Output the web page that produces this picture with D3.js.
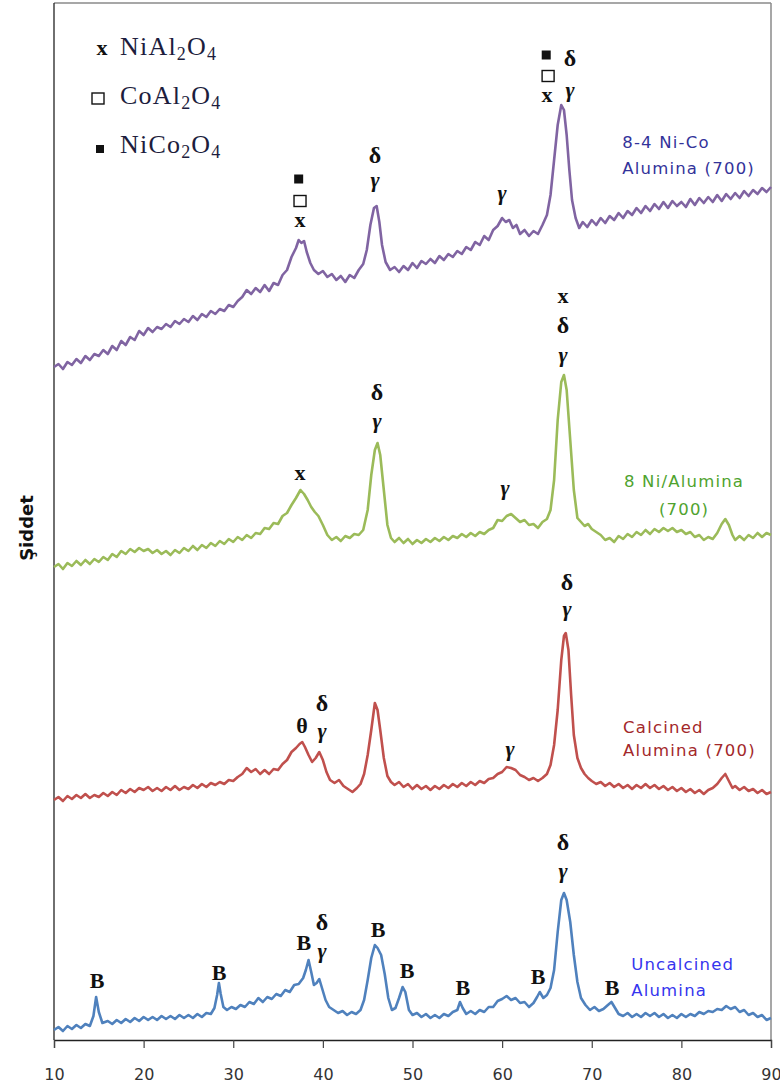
<!DOCTYPE html>
<html>
<head>
<meta charset="utf-8">
<script src="https://cdn.jsdelivr.net/npm/d3@7"></script>
<style>
  body { margin: 0; background: #fff; }
  svg { display: block; }
</style>
</head>
<body>
<svg id="chart"></svg>
<script>
// x axis ticks (2 theta)
var xTicks = [10, 20, 30, 40, 50, 60, 70, 80, 90];

// patterns, [2theta, intensity (arb. units, stacked)]
var uncalcined = [
  [10.0,10],[10.5,13],[11.0,9],[11.5,14],[12.0,11],[12.5,15],[13.0,12],[13.5,16],[14.0,14],[14.4,24],[14.7,43],[15.0,28],[15.4,17],
  [16.0,19],[16.5,16],[17.0,20],[17.5,17],[18.0,21],[18.5,18],[19.0,22],[19.5,19],[20.0,23],[20.5,20],[21.0,23],[21.5,20],[22.0,24],
  [22.5,21],[23.0,24],[23.5,21],[24.0,25],[24.5,22],[25.0,25],[25.5,22],[26.0,26],[26.5,23],[27.0,27],[27.5,26],[27.9,32],[28.2,45],
  [28.4,57],[28.6,46],[28.9,33],[29.3,30],[29.8,33],[30.3,31],[30.8,35],[31.3,33],[31.8,38],[32.3,36],[32.8,42],[33.3,38],[33.8,43],
  [34.3,41],[34.8,46],[35.3,44],[35.8,50],[36.3,48],[36.8,55],[37.3,56],[37.8,62],[38.1,70],[38.4,80],[38.7,68],[39.0,55],[39.3,57],
  [39.6,61],[39.9,52],[40.3,40],[40.7,33],[41.2,30],[41.7,27],[42.2,29],[42.7,25],[43.2,28],[43.7,26],[44.2,30],[44.6,40],[45.0,60],
  [45.4,82],[45.8,95],[46.1,92],[46.5,85],[46.9,66],[47.3,42],[47.7,30],[48.1,32],[48.5,42],[48.9,53],[49.2,48],[49.6,30],[50.0,25],
  [50.5,27],[51.0,23],[51.5,26],[52.0,22],[52.5,25],[53.0,22],[53.5,26],[54.0,24],[54.5,28],[55.0,30],[55.3,38],[55.6,32],[56.0,26],
  [56.5,29],[57.0,26],[57.5,30],[58.0,28],[58.5,33],[59.0,33],[59.5,39],[60.0,41],[60.5,44],[61.0,40],[61.5,42],[62.0,37],[62.5,38],
  [63.0,33],[63.5,37],[63.9,43],[64.2,48],[64.6,42],[65.0,45],[65.4,52],[65.8,70],[66.2,108],[66.6,140],[66.9,147],[67.2,140],
  [67.6,118],[68.0,85],[68.4,58],[68.8,42],[69.3,35],[69.8,30],[70.3,33],[70.8,29],[71.3,31],[71.8,35],[72.2,38],[72.6,32],[73.0,26],
  [73.5,24],[74.0,27],[74.5,23],[75.0,26],[75.5,23],[76.0,27],[76.5,24],[77.0,27],[77.5,23],[78.0,26],[78.5,22],[79.0,25],[79.5,22],
  [80.0,26],[80.5,23],[81.0,26],[81.5,24],[82.0,28],[82.5,26],[83.0,29],[83.5,28],[84.0,31],[84.5,30],[85.0,34],[85.5,31],[86.0,33],
  [86.5,28],[87.0,30],[87.5,25],[88.0,27],[88.5,23],[89.0,25],[89.5,20],[90.0,22]
];

var calcined = [
  [10.0,240],[10.5,243],[11.0,239],[11.5,244],[12.0,241],[12.5,245],[13.0,242],[13.5,246],[14.0,242],[14.5,245],[15.0,243],[15.5,247],
  [16.0,244],[16.5,248],[17.0,245],[17.5,250],[18.0,247],[18.5,251],[19.0,248],[19.5,252],[20.0,250],[20.5,253],[21.0,249],[21.5,252],
  [22.0,249],[22.5,253],[23.0,250],[23.5,254],[24.0,250],[24.5,253],[25.0,251],[25.5,255],[26.0,252],[26.5,256],[27.0,253],[27.5,257],
  [28.0,255],[28.5,258],[29.0,256],[29.5,260],[30.0,259],[30.5,263],[31.0,266],[31.5,272],[32.0,268],[32.5,271],[33.0,266],[33.5,270],
  [34.0,266],[34.5,271],[35.0,270],[35.5,276],[36.0,280],[36.5,288],[37.0,292],[37.4,296],[37.7,298],[38.0,293],[38.4,285],[38.8,278],
  [39.2,282],[39.6,288],[40.0,280],[40.4,268],[40.8,260],[41.3,257],[41.8,260],[42.3,254],[42.8,251],[43.3,248],[43.8,252],[44.2,256],
  [44.6,266],[45.0,285],[45.4,310],[45.8,337],[46.1,330],[46.4,310],[46.8,282],[47.2,264],[47.6,258],[48.0,255],[48.5,258],[49.0,253],
  [49.5,256],[50.0,251],[50.5,255],[51.0,251],[51.5,254],[52.0,250],[52.5,254],[53.0,251],[53.5,255],[54.0,252],[54.5,256],[55.0,253],
  [55.5,257],[56.0,254],[56.5,258],[57.0,255],[57.5,259],[58.0,257],[58.5,261],[59.0,262],[59.5,266],[60.0,268],[60.5,273],[61.0,272],
  [61.5,270],[62.0,265],[62.5,263],[63.0,260],[63.5,262],[64.0,259],[64.5,262],[65.0,266],[65.4,275],[65.8,295],[66.2,330],[66.6,380],
  [66.9,404],[67.1,407],[67.4,390],[67.7,345],[68.0,305],[68.4,282],[68.8,272],[69.2,266],[69.6,262],[70.0,259],[70.5,256],[71.0,258],
  [71.5,254],[72.0,257],[72.5,253],[73.0,256],[73.5,252],[74.0,255],[74.5,251],[75.0,255],[75.5,252],[76.0,256],[76.5,252],[77.0,255],
  [77.5,251],[78.0,254],[78.5,250],[79.0,253],[79.5,249],[80.0,252],[80.5,248],[81.0,251],[81.5,247],[82.0,250],[82.5,246],[83.0,250],
  [83.5,252],[84.0,256],[84.5,262],[84.9,266],[85.3,259],[85.7,252],[86.0,254],[86.5,250],[87.0,253],[87.5,249],[88.0,251],[88.5,247],
  [89.0,250],[89.5,246],[90.0,248]
];

var niAlumina = [
  [10.0,473],[10.5,476],[11.0,471],[11.5,477],[12.0,474],[12.5,479],[13.0,475],[13.5,480],[14.0,476],[14.5,481],[15.0,478],[15.5,483],
  [16.0,480],[16.5,486],[17.0,483],[17.5,489],[18.0,486],[18.5,491],[19.0,488],[19.5,492],[20.0,489],[20.5,491],[21.0,487],[21.5,490],
  [22.0,486],[22.5,489],[23.0,485],[23.5,490],[24.0,487],[24.5,492],[25.0,489],[25.5,494],[26.0,490],[26.5,495],[27.0,492],[27.5,497],
  [28.0,494],[28.5,499],[29.0,496],[29.5,501],[30.0,498],[30.5,503],[31.0,500],[31.5,505],[32.0,502],[32.5,507],[33.0,506],[33.5,512],
  [34.0,511],[34.5,517],[35.0,516],[35.5,524],[36.0,527],[36.5,535],[37.0,542],[37.5,550],[37.9,546],[38.3,540],[38.7,533],[39.1,528],
  [39.5,524],[40.0,515],[40.5,505],[41.0,500],[41.5,503],[42.0,499],[42.5,504],[43.0,502],[43.5,506],[44.0,505],[44.5,510],[45.0,530],
  [45.4,565],[45.8,590],[46.1,597],[46.4,585],[46.8,550],[47.2,515],[47.6,502],[48.0,498],[48.5,502],[49.0,497],[49.5,501],[50.0,496],
  [50.5,500],[51.0,497],[51.5,501],[52.0,498],[52.5,502],[53.0,499],[53.5,503],[54.0,500],[54.5,504],[55.0,502],[55.5,506],[56.0,503],
  [56.5,507],[57.0,504],[57.5,508],[58.0,506],[58.5,510],[59.0,512],[59.5,520],[60.0,519],[60.5,524],[61.0,526],[61.5,522],[62.0,518],
  [62.5,520],[63.0,515],[63.5,516],[64.0,512],[64.5,518],[65.0,521],[65.4,530],[65.8,560],[66.2,620],[66.6,658],[66.9,665],[67.2,650],
  [67.6,600],[68.0,550],[68.4,522],[68.8,518],[69.2,514],[69.6,516],[70.0,511],[70.5,508],[71.0,505],[71.5,500],[72.0,502],[72.5,498],
  [73.0,504],[73.5,501],[74.0,506],[74.5,503],[75.0,508],[75.5,505],[76.0,510],[76.5,506],[77.0,511],[77.5,508],[78.0,512],[78.5,509],
  [79.0,512],[79.5,508],[80.0,510],[80.5,506],[81.0,508],[81.5,503],[82.0,505],[82.5,500],[83.0,503],[83.5,501],[84.0,507],[84.5,516],
  [84.9,521],[85.3,515],[85.7,505],[86.0,500],[86.5,504],[87.0,500],[87.5,505],[88.0,502],[88.5,507],[89.0,503],[89.5,507],[90.0,505]
];

var niCoAlumina = [
  [10.0,673],[10.5,676],[11.0,671],[11.5,678],[12.0,675],[12.5,681],[13.0,677],[13.5,684],[14.0,680],[14.5,686],[15.0,684],[15.5,690],
  [16.0,686],[16.5,694],[17.0,690],[17.5,699],[18.0,695],[18.5,703],[19.0,700],[19.5,709],[20.0,705],[20.5,712],[21.0,708],[21.5,713],
  [22.0,711],[22.5,716],[23.0,713],[23.5,719],[24.0,716],[24.5,721],[25.0,718],[25.5,724],[26.0,720],[26.5,726],[27.0,723],[27.5,729],
  [28.0,726],[28.5,731],[29.0,729],[29.5,735],[30.0,733],[30.5,739],[31.0,743],[31.5,750],[32.0,746],[32.5,752],[33.0,748],[33.5,755],
  [34.0,749],[34.5,757],[35.0,755],[35.5,765],[36.0,770],[36.5,783],[37.0,792],[37.3,800],[37.6,797],[37.9,799],[38.2,788],[38.6,777],
  [39.0,770],[39.5,766],[40.0,769],[40.5,763],[41.0,766],[41.5,760],[42.0,764],[42.5,758],[43.0,765],[43.5,762],[44.0,770],[44.5,776],
  [44.9,790],[45.3,815],[45.7,832],[46.0,834],[46.3,818],[46.6,795],[47.0,778],[47.5,770],[48.0,773],[48.5,768],[49.0,774],[49.5,770],
  [50.0,777],[50.5,772],[51.0,779],[51.5,776],[52.0,781],[52.5,777],[53.0,784],[53.5,780],[54.0,786],[54.5,783],[55.0,789],[55.5,786],
  [56.0,793],[56.5,790],[57.0,798],[57.5,795],[58.0,804],[58.5,800],[59.0,810],[59.5,814],[60.0,822],[60.4,818],[60.8,820],[61.2,812],
  [61.6,815],[62.0,806],[62.5,810],[63.0,804],[63.5,809],[64.0,806],[64.5,815],[65.0,825],[65.4,845],[65.8,880],[66.2,915],[66.6,935],
  [66.9,930],[67.2,905],[67.5,870],[67.8,840],[68.2,822],[68.6,812],[69.0,818],[69.5,813],[70.0,820],[70.5,815],[71.0,822],[71.5,817],
  [72.0,824],[72.5,820],[73.0,827],[73.5,822],[74.0,829],[74.5,825],[75.0,832],[75.5,827],[76.0,834],[76.5,829],[77.0,836],[77.5,831],
  [78.0,838],[78.5,832],[79.0,839],[79.5,834],[80.0,838],[80.5,833],[81.0,841],[81.5,835],[82.0,842],[82.5,837],[83.0,843],[83.5,838],
  [84.0,845],[84.5,839],[85.0,846],[85.5,841],[86.0,847],[86.5,842],[87.0,849],[87.5,844],[88.0,850],[88.5,846],[89.0,852],[89.5,848],
  [90.0,853]
];

var seriesNames = ['Uncalcined Alumina', 'Calcined Alumina (700)', '8 Ni/Alumina (700)', '8-4 Ni-Co Alumina (700)'];
var seriesColors = ['#4F81BD', '#C0504D', '#9BBB59', '#8064A2'];
var seriesData = [uncalcined, calcined, niAlumina, niCoAlumina];

// phase marks: text, 2theta, intensity level of baseline
var peakLabels = [
  // 8-4 Ni-Co
  ['x', 37.45, 813], ['\u03b4', 45.82, 877], ['\u03b3', 45.82, 853], ['\u03b3', 59.99, 840],
  ['x', 65.01, 938], ['\u03b4', 67.57, 974], ['\u03b3', 67.57, 943],
  // 8 Ni
  ['x', 37.45, 560], ['\u03b4', 46.04, 640], ['\u03b3', 46.04, 612], ['\u03b3', 60.32, 545],
  ['x', 66.79, 737], ['\u03b4', 66.79, 707], ['\u03b3', 66.79, 678],
  // calcined
  ['\u03b8', 37.67, 307], ['\u03b4', 39.90, 329], ['\u03b3', 39.90, 302], ['\u03b3', 60.88, 284],
  ['\u03b4', 67.24, 450], ['\u03b3', 67.24, 424],
  // uncalcined
  ['B', 14.80, 52], ['B', 28.41, 60], ['B', 37.89, 90], ['\u03b4', 39.90, 110], ['\u03b3', 39.90, 82],
  ['B', 46.15, 103], ['B', 49.39, 62], ['B', 55.63, 45], ['B', 64.00, 56], ['B', 72.26, 45],
  ['\u03b4', 66.79, 190], ['\u03b3', 66.79, 162]
];
// square marks: filled?, 2theta, intensity of centre
var squareMarks = [
  [true, 37.30, 861], [false, 37.45, 839],
  [true, 64.92, 985], [false, 65.13, 964]
];

// series captions: lines, 2theta, intensity of first baseline, anchor
var captions = [
  [['Uncalcined', 'Alumina'], 74.4, 70, 'start'],
  [['Calcined', 'Alumina (700)'], 73.5, 307, 'start'],
  [['8 Ni/Alumina', '(700)'], 80.3, 553, 'middle'],
  [['8-4 Ni-Co', 'Alumina (700)'], 73.4, 892, 'start']
];

var legendItems = [
  ['x', 'NiAl', '2', 'O', '4'],
  ['open', 'CoAl', '2', 'O', '4'],
  ['filled', 'NiCo', '2', 'O', '4']
];

var W = 780, H = 1086;
var margin = {left: 54, right: 9, top: 3, bottom: 46};

var svg = d3.select('#chart').attr('width', W).attr('height', H);

var x = d3.scaleLinear().domain([10, 90]).range([margin.left, W - margin.right]);
var y = d3.scaleLinear().domain([0, 1037]).range([H - margin.bottom, margin.top]);

// frame
svg.append('line')
  .attr('x1', x(10)).attr('x2', x(90)).attr('y1', y(1037)).attr('y2', y(1037))
  .attr('stroke', '#8a8a8a').attr('stroke-width', 1.5);
svg.append('line')
  .attr('x1', x(90)).attr('x2', x(90)).attr('y1', y(1037)).attr('y2', y(0))
  .attr('stroke', '#8a8a8a').attr('stroke-width', 1.5);
svg.append('line')
  .attr('x1', x(10)).attr('x2', x(10)).attr('y1', y(1037)).attr('y2', y(0))
  .attr('stroke', '#222').attr('stroke-width', 1.3);

// x axis
var xAxis = svg.append('g')
  .attr('transform', 'translate(0,' + y(0) + ')')
  .call(d3.axisBottom(x).tickValues(xTicks).tickSize(8).tickFormat(d3.format('d')));
xAxis.select('.domain').attr('stroke', '#222').attr('stroke-width', 1.3);
xAxis.selectAll('.tick line').attr('stroke', '#444').attr('stroke-width', 1.2);
xAxis.selectAll('.tick text')
  .attr('y', 40).attr('dy', 0)
  .attr('font-family', 'DejaVu Sans, Verdana, sans-serif')
  .attr('font-size', 16)
  .attr('fill', '#333');

// y title
svg.append('text')
  .attr('transform', 'translate(33,' + 528 + ') rotate(-90)')
  .attr('text-anchor', 'middle')
  .attr('font-family', 'DejaVu Sans, sans-serif')
  .attr('font-weight', 'bold')
  .attr('font-size', 18)
  .attr('fill', '#111')
  .text('Şiddet');

// patterns
var line = d3.line()
  .x(function(d){ return x(d[0]); })
  .y(function(d){ return y(d[1]); });

svg.selectAll('.pattern')
  .data(seriesData)
  .enter().append('path')
    .attr('class', 'pattern')
    .attr('d', line)
    .attr('fill', 'none')
    .attr('stroke', function(d, i){ return seriesColors[i]; })
    .attr('stroke-width', 2.6)
    .attr('stroke-linejoin', 'round');

// peak labels
svg.selectAll('.peak')
  .data(peakLabels)
  .enter().append('text')
    .attr('class', 'peak')
    .attr('x', function(d){ return x(d[1]); })
    .attr('y', function(d){ return y(d[2]); })
    .attr('text-anchor', 'middle')
    .attr('font-family', 'Liberation Serif, Times New Roman, serif')
    .attr('font-weight', 'bold')
    .attr('font-style', function(d){ return d[0] == '\u03b3' ? 'italic' : 'normal'; })
    .attr('font-size', function(d){ return d[0] == '\u03b4' ? 24 : 22; })
    .attr('fill', '#111')
    .text(function(d){ return d[0]; });

svg.selectAll('.sq')
  .data(squareMarks)
  .enter().append('rect')
    .attr('class', 'sq')
    .attr('x', function(d){ return x(d[1]) - (d[0] ? 4.5 : 6); })
    .attr('y', function(d){ return y(d[2]) - (d[0] ? 4.5 : 5.5); })
    .attr('width', function(d){ return d[0] ? 9 : 12; })
    .attr('height', function(d){ return d[0] ? 9 : 11; })
    .attr('fill', function(d){ return d[0] ? '#111' : '#fff'; })
    .attr('stroke', '#111')
    .attr('stroke-width', function(d){ return d[0] ? 0 : 1.4; });

// captions
captions.forEach(function(c, i){
  var t = svg.append('text')
    .attr('font-family', 'DejaVu Sans, Verdana, sans-serif')
    .attr('font-size', 16.5)
    .attr('letter-spacing', 1.2)
    .attr('text-anchor', c[3])
    .attr('fill', ['#3535EE', '#A3282A', '#4FA32E', '#33339A'][i]);
  c[0].forEach(function(s, j){
    t.append('tspan')
      .attr('x', x(c[1]))
      .attr('y', y(c[2]) + j * (i == 2 ? 28 : (i == 1 ? 23 : 26)))
      .text(s);
  });
});

// legend
var lg = svg.append('g');
legendItems.forEach(function(d, i){
  var by = 55 + i * 49;
  if (d[0] == 'x') {
    lg.append('text').attr('x', 102).attr('y', by).attr('text-anchor', 'middle')
      .attr('font-family', 'Liberation Serif, serif').attr('font-weight', 'bold')
      .attr('font-size', 22).attr('fill', '#111').text('x');
  } else if (d[0] == 'open') {
    lg.append('rect').attr('x', 92).attr('y', by - 11).attr('width', 12).attr('height', 11)
      .attr('fill', '#fff').attr('stroke', '#111').attr('stroke-width', 1.4);
  } else {
    lg.append('rect').attr('x', 96).attr('y', by - 8).attr('width', 8).attr('height', 8)
      .attr('fill', '#111');
  }
  var t = lg.append('text').attr('x', 120).attr('y', by)
    .attr('font-family', 'Liberation Serif, Times New Roman, serif')
    .attr('font-size', 26).attr('letter-spacing', 1.2).attr('fill', '#1d1d3d');
  t.append('tspan').text(d[1]);
  t.append('tspan').attr('font-size', 18).attr('dy', 5).text(d[2]);
  t.append('tspan').attr('dy', -5).text(d[3]);
  t.append('tspan').attr('font-size', 18).attr('dy', 5).text(d[4]);
});
</script>
</body>
</html>
